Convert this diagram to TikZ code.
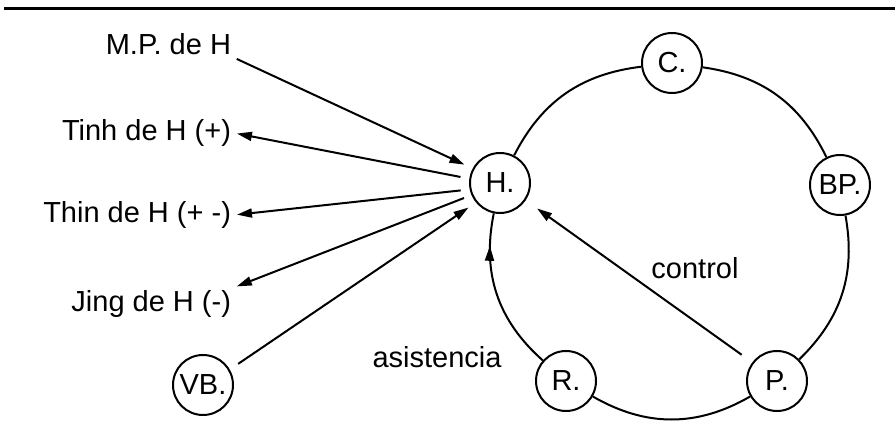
\documentclass[tikz,border=0pt]{standalone}
\usepackage{fontspec}
\setmainfont{Liberation Sans}
\usetikzlibrary{arrows.meta,decorations.markings}

\begin{document}
\begin{tikzpicture}[x=1pt, y=1pt, >={Triangle[length=15pt,width=9pt]}, line width=2pt,
    every node/.style={font=\fontsize{29}{33}\selectfont},
    punto/.style={circle, draw, line width=2pt, minimum size=60pt, inner sep=0pt},
    rotulo/.style={inner sep=2pt, anchor=east}]
    \useasboundingbox (0,0) rectangle (895,-430);

    % 顶部横线
    \draw[line width=3pt] (4,-9) -- (895,-9);

    % 圆圈节点
    \node[punto] (C) at (672,-63) {C.};
    \node[punto] (H) at (500,-183) {H.};
    \node[punto] (BP) at (840,-185) {BP.};
    \node[punto] (R) at (566,-381) {R.};
    \node[punto] (P) at (777,-381) {P.};
    \node[punto] (VB) at (203,-385) {VB.};

    % 左侧文字
    \node[rotulo] (mp) at (234,-44) {M.P. de H};
    \node[rotulo] (tinh) at (234,-133) {Tinh de H (+)};
    \node[rotulo] (thin) at (234,-215) {Thin de H (+ -)};
    \node[rotulo] (jing) at (234,-304) {Jing de H (-)};

    % 指向 H 及由 H 发出的箭头
    \draw[->, shorten <=3pt, shorten >=9pt] (mp.south east) -- (H.152);
    \draw[->, shorten <=9pt, shorten >=3pt] (H.172) -- (tinh.east);
    \draw[->, shorten <=9pt, shorten >=3pt] (H.192) -- (thin.east);
    \draw[->, shorten <=8pt, shorten >=3pt] (H.203) -- (jing.north east);
    \draw[->, shorten <=10pt, shorten >=9pt] (VB.30) -- (H.219);

    % 外圈 (H -> C -> BP -> P -> R -> H)
    \draw (H) to[bend left=28] (C);
    \draw (C) to[bend left=28] (BP);
    \draw (BP) to[bend left=28] (P);
    \draw (P) to[bend left=30] (R);
    \draw[postaction={decorate},
        decoration={markings, mark=at position 0.8 with {\arrow{>}}}]
        (R) to[bend left=30] (H);

    % 控制线
    \draw[->, shorten <=13pt, shorten >=14pt] (P.143) -- (H.326);

    % 标注
    \node (control) at (695,-268) {control};
    \node (asist) at (437,-357) {asistencia};
\end{tikzpicture}
\end{document}
